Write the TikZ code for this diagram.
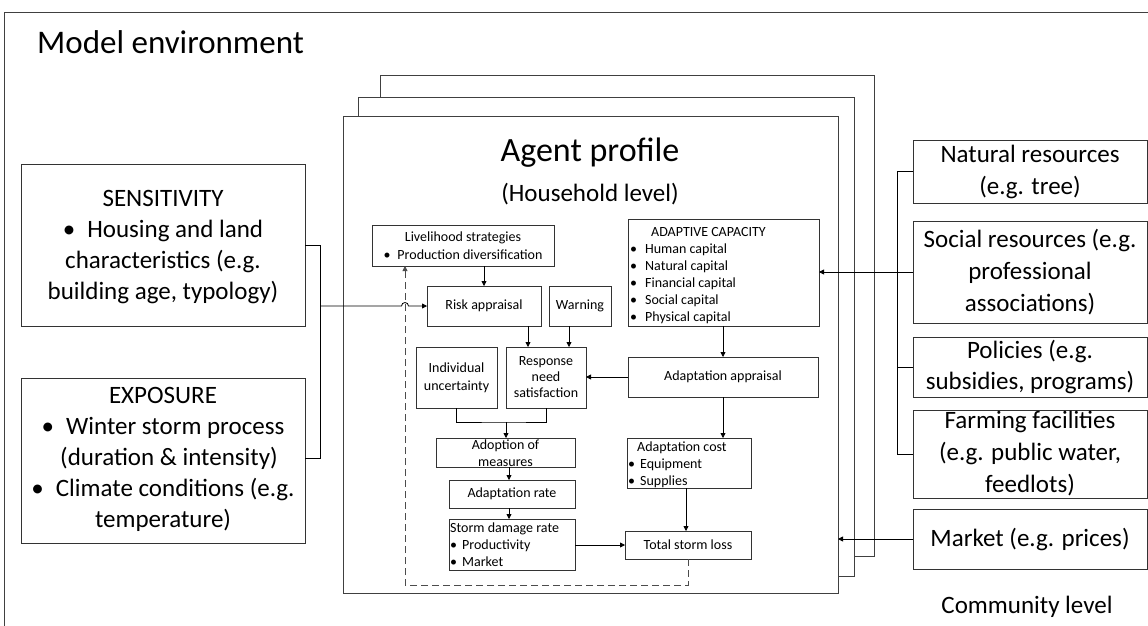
\documentclass[tikz,border=0pt]{standalone}
\usepackage{fontspec}
\setmainfont{Carlito}
\usetikzlibrary{arrows.meta,calc}
\begin{document}
\begin{tikzpicture}[x=1pt,y=-1pt,
  frame/.style={draw=black!75, line width=0.9pt},
  box/.style={draw=black!80, line width=0.9pt, rectangle, inner sep=0pt, outer sep=0pt, anchor=north west, fill=white},
  conn/.style={draw=black, line width=0.8pt},
  arr/.style={conn, -{Triangle[length=5pt,width=5pt]}},
  fb/.style={arr, draw=black!70, dash pattern=on 7pt off 4pt},
  small/.style={font=\fontsize{14}{17}\selectfont, inner sep=0pt, align=center},
  smallL/.style={font=\fontsize{14}{17}\selectfont, inner sep=0pt, align=left, anchor=west},
  big/.style={font=\fontsize{25}{31}\selectfont, inner sep=0pt, align=center},
  bigR/.style={font=\fontsize{25}{32}\selectfont, inner sep=0pt, align=center},
]
\useasboundingbox (0,0) rectangle (1148,626);
% model environment frame
\draw[frame] (4,626) -- (4,12) -- (1148,12);
\node[anchor=west, inner sep=0pt, font=\fontsize{33}{40}\selectfont] (title) at (37,42) {Model environment};

% agent stack
\node[box, frame, minimum width=494pt, minimum height=481pt] (back) at (380,75) {};
\node[box, frame, minimum width=496pt, minimum height=479pt] (mid) at (358,97) {};
\node[box, frame, minimum width=495pt, minimum height=477pt] (front) at (343,116) {};
\node[inner sep=0pt, font=\fontsize{34}{40}\selectfont] (agent) at (590,153) {Agent profile};
\node[inner sep=0pt, font=\fontsize{25}{30}\selectfont] (hh) at (590,194) {(Household level)};

% column helpers
\coordinate (cA) at (509,0);
\coordinate (cB) at (528,0);
\coordinate (cC) at (569,0);
\coordinate (cD) at (723,0);
\coordinate (cE) at (686,0);
\coordinate (lb) at (320,0);
\coordinate (rb) at (897,0);
\coordinate (hop) at (405,306);
\coordinate (mj) at (506,422);
\coordinate (fbc) at (405,585);

% inner boxes
\node[box, minimum width=182pt, minimum height=41pt] (live) at (372,225) {};
\node[small] at (live) {Livelihood strategies\\[1pt]•\hspace{7pt}Production diversification};
\node[box, minimum width=114pt, minimum height=40pt] (risk) at (427,286) {};
\node[small] at (risk) {Risk appraisal};
\node[box, minimum width=62pt, minimum height=40pt] (warn) at (549,286) {};
\node[small] at (warn) {Warning};
\node[box, minimum width=191pt, minimum height=107pt] (adcap) at (628,219) {};
\node[smallL] at (630,276) {\hspace*{21pt}ADAPTIVE CAPACITY\\•\hspace{8pt}Human capital\\•\hspace{8pt}Natural capital\\•\hspace{8pt}Financial capital\\•\hspace{8pt}Social capital\\•\hspace{8pt}Physical capital};
\node[box, minimum width=81pt, minimum height=61pt] (indiv) at (416,347) {};
\node[small, font=\fontsize{14}{18}\selectfont] at (indiv) {Individual\\uncertainty};
\node[box, minimum width=80pt, minimum height=61pt] (resp) at (506,347) {};
\node[small, font=\fontsize{14}{16}\selectfont] at (resp) {Response\\need\\satisfaction};
\node[box, minimum width=190pt, minimum height=40pt] (adapp) at (628,357) {};
\node[small] at (adapp) {Adaptation appraisal};
\node[box, minimum width=139pt, minimum height=29pt] (adopt) at (436,438) {};
\node[small] at ($(adopt)+(0,1)$) {Adoption of\\measures};
\node[box, minimum width=126pt, minimum height=28pt] (rate) at (449,480) {};
\node[small] at (rate) {Adaptation rate};
\node[box, minimum width=126pt, minimum height=51pt] (storm) at (449,519) {};
\node[smallL] at (450,545) {Storm damage rate\\•\hspace{5pt}Productivity\\•\hspace{5pt}Market};
\node[box, minimum width=124pt, minimum height=50pt] (adcost) at (627,438) {};
\node[smallL] at (628,465) {\hspace*{9pt}Adaptation cost\\•\hspace{5pt}Equipment\\•\hspace{5pt}Supplies};
\node[box, minimum width=126pt, minimum height=28pt] (total) at (625,531) {};
\node[small] at (total) {Total storm loss};

% left boxes
\node[box, minimum width=284pt, minimum height=162pt] (sens) at (21,164) {};
\node[big] at ($(sens)+(0,2)$) {SENSITIVITY\\•\hspace{12pt}Housing and land\\characteristics (e.g.\\building age, typology)};
\node[box, minimum width=284pt, minimum height=165pt] (exp) at (21,378) {};
\node[big] at ($(exp)+(0,-1)$) {EXPOSURE\\•\hspace{12pt}Winter storm process\\\hspace*{12pt}(duration \& intensity)\\•\hspace{12pt}Climate conditions (e.g.\\temperature)};

% right boxes
\node[box, minimum width=234pt, minimum height=63pt] (nat) at (913,140) {};
\node[bigR] at (nat) {Natural resources\\(e.g. tree)};
\node[box, minimum width=234pt, minimum height=102pt] (soc) at (913,221) {};
\node[bigR] at (soc) {Social resources (e.g.\\professional\\associations)};
\node[box, minimum width=234pt, minimum height=60pt] (pol) at (913,337) {};
\node[bigR, font=\fontsize{25}{31}\selectfont] at (pol) {Policies (e.g.\\subsidies, programs)};
\node[box, minimum width=234pt, minimum height=88pt] (farm) at (913,410) {};
\node[bigR] at (farm) {Farming facilities\\(e.g. public water,\\feedlots)};
\node[box, minimum width=234pt, minimum height=60pt] (mkt) at (913,509) {};
\node[bigR] at (mkt) {Market (e.g. prices)};
\node[inner sep=0pt, font=\fontsize{25}{30}\selectfont] (comm) at (1027,607) {Community level};

% connectors inside
\draw[arr] (live.south -| risk.north) -- (risk.north);
\draw[arr] (risk.south -| cB) -- (resp.north -| cB);
\draw[arr] (warn.south -| cC) -- (resp.north -| cC);
\draw[arr] (adcap.south -| cD) -- (adapp.north -| cD);
\draw[arr] (adapp.west) -- (resp.east |- adapp.west);
\draw[arr] (adapp.south -| cD) -- (adcost.north -| cD);
\draw[conn] (indiv.south) |- (mj) -| (resp.south);
\draw[arr] (mj) -- (adopt.north -| mj);
\draw[arr] (adopt.south -| cA) -- (rate.north -| cA);
\draw[arr] (rate.south -| cA) -- (storm.north -| cA);
\draw[arr] (storm.east |- total.west) -- (total.west);
\draw[arr] (adcost.south -| cE) -- (total.north -| cE);
\draw[fb] (total.south) |- (fbc) -- (fbc |- live.south);

% left bracket
\draw[conn] (sens.east) -- (sens.east -| lb) -- (lb |- 0,458) -- ($(exp.north east)+(0,80)$);
\draw[arr] (risk.west -| lb) -- ($(hop)+(-3.5,0)$) arc[start angle=180, end angle=360, radius=3.5] -- (risk.west);

% right bracket
\draw[conn] (nat.west) -- (nat.west -| rb) -- (farm.west -| rb) -- (farm.west);
\draw[conn] (pol.west) -- (pol.west -| rb);
\draw[arr] (soc.west) -- (soc.west -| adcap.east);
\draw[arr] (mkt.west) -- (mkt.west -| front.east);
\end{tikzpicture}
\end{document}
